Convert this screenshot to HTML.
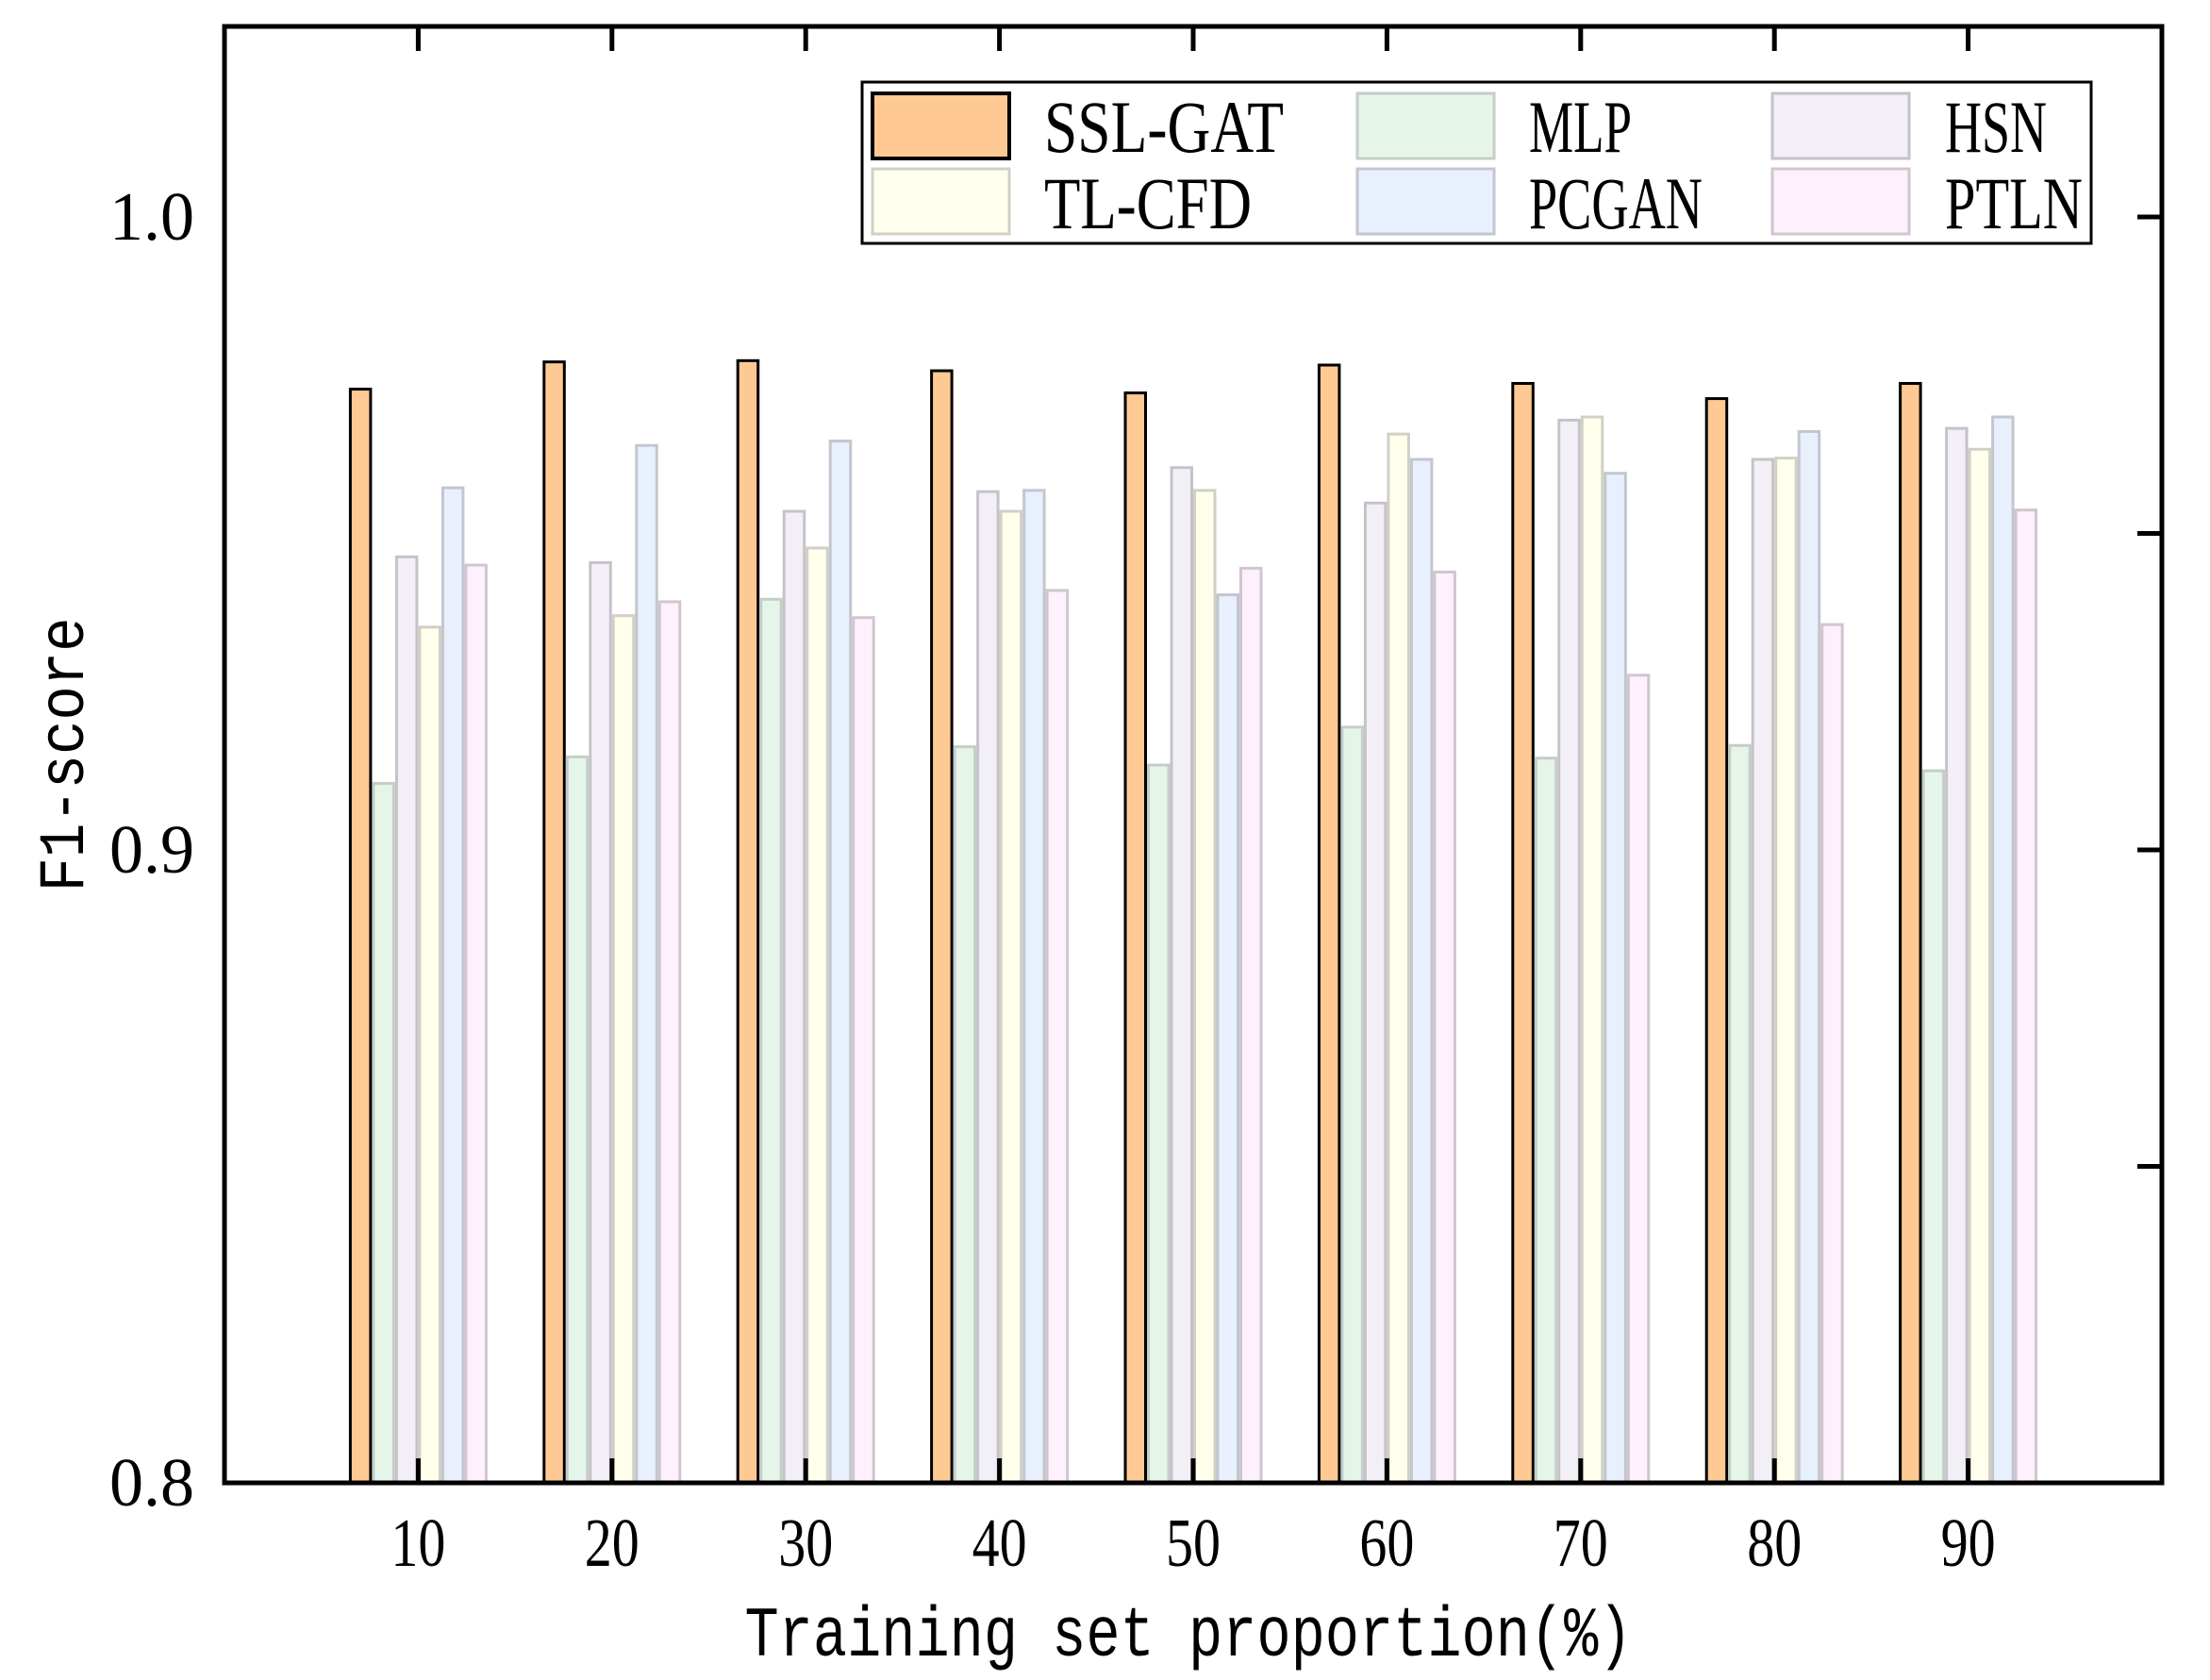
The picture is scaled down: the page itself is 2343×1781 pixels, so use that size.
<!DOCTYPE html>
<html><head><meta charset="utf-8"><style>html,body{margin:0;padding:0;background:#fff}svg{display:block}</style></head>
<body>
<svg id="chart" xmlns="http://www.w3.org/2000/svg" width="2343" height="1781" viewBox="0 0 2343 1781" font-family="'Liberation Serif', serif">
<rect x="0" y="0" width="2343" height="1781" fill="#fff"/>
<g id="bars"></g>
<g id="axes"></g>
<g id="legend"></g>
</svg>
<script>
const categories = [10, 20, 30, 40, 50, 60, 70, 80, 90];
const seriesNames = ['SSL-GAT', 'MLP', 'HSN', 'TL-CFD', 'PCGAN', 'PTLN'];
const sslGat = [0.9728, 0.9771, 0.9773, 0.9757, 0.9722, 0.9766, 0.9737, 0.9713, 0.9737];
const mlp    = [0.9105, 0.9147, 0.9396, 0.9163, 0.9134, 0.9194, 0.9145, 0.9165, 0.9125];
const hsn    = [0.9463, 0.9454, 0.9535, 0.9566, 0.9604, 0.9548, 0.9679, 0.9617, 0.9666];
const tlCfd  = [0.9352, 0.9370, 0.9477, 0.9535, 0.9568, 0.9657, 0.9684, 0.9619, 0.9633];
const pcgan  = [0.9572, 0.9639, 0.9646, 0.9568, 0.9403, 0.9617, 0.9595, 0.9661, 0.9684];
const ptln   = [0.9450, 0.9392, 0.9367, 0.9410, 0.9445, 0.9439, 0.9276, 0.9356, 0.9537];
const yTicks = [0.8, 0.85, 0.9, 0.95, 1.0];
const yTickLabels = ['0.8', '', '0.9', '', '1.0'];

const NS = 'http://www.w3.org/2000/svg';
const L = 238, R = 2292, T = 28, B = 1572;
const xMin = 0, xMax = 100;
function xs(v) { return L + (v - xMin) / (xMax - xMin) * (R - L); }
function ys(v) { return B - (v - 0.8) / 0.2 * (B - 230); }
function mk(tag, attrs, parent) {
  const e = document.createElementNS(NS, tag);
  for (const k in attrs) e.setAttribute(k, attrs[k]);
  parent.appendChild(e);
  return e;
}
const allSeries = [sslGat, mlp, hsn, tlCfd, pcgan, ptln];
const fills = ['#FFC993', '#E6F5EA', '#F3EFF7', '#FFFFEC', '#E9F0FD', '#FEF0FC'];
const strokes = ['#000000', '#C4CEC6', '#C6C2CA', '#D0D0C6', '#C2C6CE', '#CFC6CF'];
const barW = 24.5;
const bars = document.getElementById('bars');
allSeries.forEach((arr, s) => {
  arr.forEach((v, i) => {
    const cx = xs(categories[i]) + (s - 2.5) * barW;
    const y = ys(v);
    const r = mk('rect', {x: cx - barW / 2 + 1.5, y: y, width: barW - 3, height: B - y, fill: fills[s], stroke: strokes[s], 'stroke-width': 3}, bars);
    
    
  });
});
const axes = document.getElementById('axes');
const frame = mk('rect', {x: L, y: T, width: R - L, height: B - T, fill: 'none', stroke: '#000', 'stroke-width': 5}, axes);


categories.forEach((c) => {
  const x = xs(c);
  const t1 = mk('line', {x1: x, y1: T, x2: x, y2: T + 26, stroke: '#000', 'stroke-width': 5}, axes);
  
  
  const t2 = mk('line', {x1: x, y1: B, x2: x, y2: B - 26, stroke: '#000', 'stroke-width': 5}, axes);
  
  
  const lb = mk('text', {x: x, y: 1660, 'font-size': 52, 'text-anchor': 'middle', textLength: 58, lengthAdjust: 'spacingAndGlyphs', transform: 'translate(0,' + (1660 * -0.4) + ') scale(1,1.4)'}, axes);
  
  
  lb.textContent = String(c);
});
yTicks.forEach((v, i) => {
  const y = ys(v);
  const t = mk('line', {x1: R, y1: y, x2: R - 26, y2: y, stroke: '#000', 'stroke-width': 5}, axes);
  
  
  if (yTickLabels[i]) {
    const by = y + 24;
    const lb = mk('text', {x: 206, y: by, 'font-size': 52, 'text-anchor': 'end', textLength: 90, lengthAdjust: 'spacingAndGlyphs', transform: 'translate(0,' + (by * -0.4) + ') scale(1,1.4)'}, axes);
    
    
    lb.textContent = yTickLabels[i];
  }
});
const xt = mk('text', {x: 1260, y: 1755, 'font-size': 60, 'text-anchor': 'middle', 'font-family': "'Liberation Mono', monospace", textLength: 941, lengthAdjust: 'spacingAndGlyphs', transform: 'translate(0,' + (1755 * -0.25) + ') scale(1,1.25)'}, axes);


xt.textContent = 'Training set proportion(%)';
const yt = mk('text', {x: 0, y: 0, 'font-size': 60, 'text-anchor': 'middle', 'font-family': "'Liberation Mono', monospace", textLength: 291, lengthAdjust: 'spacingAndGlyphs', transform: 'translate(88,800) rotate(-90) scale(1,1.15)'}, axes);


yt.textContent = 'F1-score';

const legend = document.getElementById('legend');
const lbox = mk('rect', {x: 914, y: 87, width: 1303, height: 171, fill: '#fff', stroke: '#000', 'stroke-width': 3}, legend);


const colSw = [925, 1439, 1879];
const colTx = [1107, 1621, 2062];
const rowY = [99, 179];
const rowBase = [161, 242];
const legendOrder = [0, 3, 1, 4, 2, 5];
const legendWidths = [254, 109, 108, 220, 184, 146];
legendOrder.forEach((s, k) => {
  const col = Math.floor(k / 2), row = k % 2;
  const sw = mk('rect', {x: colSw[col], y: rowY[row], width: 145, height: 69, fill: fills[s], stroke: strokes[s], 'stroke-width': s === 0 ? 4 : 3}, legend);
  
  
  const by = rowBase[row];
  const tx = mk('text', {x: colTx[col], y: by, 'font-size': 58, textLength: legendWidths[s], lengthAdjust: 'spacingAndGlyphs', transform: 'translate(0,' + (by * -0.35) + ') scale(1,1.35)'}, legend);
  
  
  tx.textContent = seriesNames[s];
});
</script>
</body></html>
